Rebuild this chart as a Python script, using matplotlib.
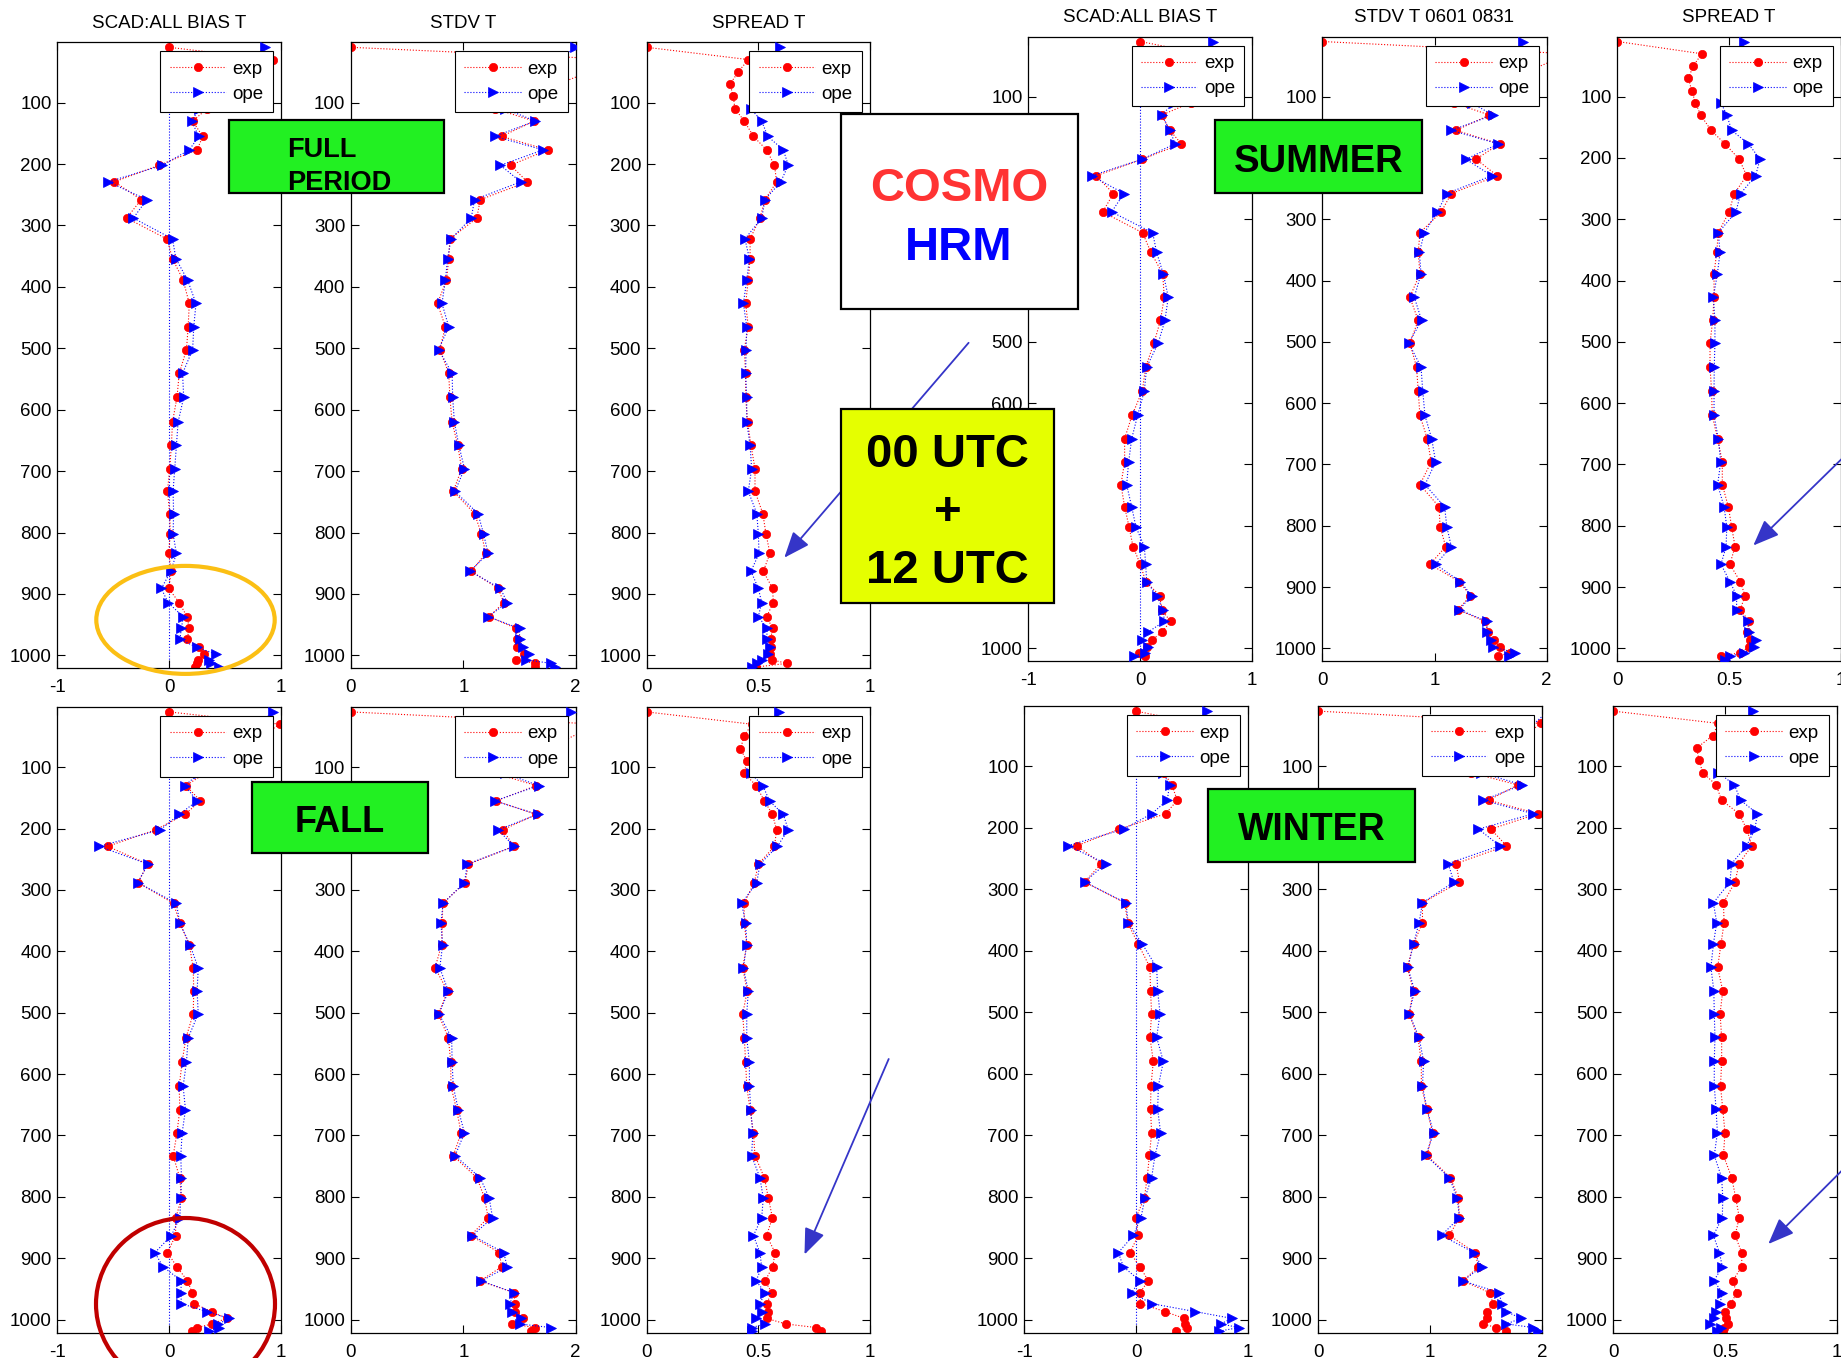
import numpy as np
import matplotlib
matplotlib.use('Agg')
import matplotlib.pyplot as plt
from matplotlib.patches import Rectangle, Ellipse, FancyArrowPatch

plt.rcParams['font.family'] = ['Liberation Sans', 'DejaVu Sans']
plt.rcParams['axes.unicode_minus'] = False

N = np.nan

# pressure levels (hPa)
levels = [10, 30, 50, 70, 90, 110, 130, 155, 177, 202, 229, 258, 288, 322, 354, 389,
          427, 465, 502, 541, 580, 620, 658, 696, 733, 769, 802, 834, 863, 891, 914,
          937, 956, 974, 987, 998, 1007, 1013, 1019]

# ---------------- FULL PERIOD ----------------
full_bias_exp = [0, 0.93, N, N, N, 0.34, 0.21, 0.30, 0.25, -0.09, -0.49, -0.25, -0.38, -0.02, 0.03,
                 0.125, 0.18, 0.17, 0.155, 0.09, 0.07, 0.03, 0.02, 0.005, -0.015, 0.005, 0.01, -0.005,
                 0.02, -0.005, 0.09, 0.16, 0.18, 0.16, 0.27, 0.31, 0.26, 0.25, 0.23]
full_bias_ope = [0.855, N, N, N, N, 0.27, 0.20, 0.265, 0.18, -0.06, -0.545, -0.20, -0.32, 0.03, 0.06,
                 0.165, 0.24, 0.22, 0.21, 0.12, 0.13, 0.08, 0.065, 0.05, 0.035, 0.04, 0.035, 0.065,
                 0.015, -0.07, -0.01, 0.125, 0.11, 0.095, 0.25, 0.42, 0.36, 0.37, 0.45]
full_stdv_exp = [0, 2.4, N, N, N, 1.28, 1.63, 1.34, 1.75, 1.42, 1.57, 1.15, 1.12, 0.88, 0.87,
                 0.85, 0.77, 0.84, 0.79, 0.87, 0.88, 0.90, 0.95, 0.985, 0.91, 1.10, 1.16, 1.20,
                 1.07, 1.31, 1.36, 1.23, 1.47, 1.48, 1.48, 1.54, 1.47, 1.64, 1.64]
full_stdv_ope = [1.99, N, N, N, N, 1.37, 1.64, 1.28, 1.71, 1.33, 1.51, 1.10, 1.07, 0.89, 0.86,
                 0.84, 0.81, 0.87, 0.78, 0.90, 0.905, 0.92, 0.96, 1.01, 0.925, 1.13, 1.18, 1.22,
                 1.06, 1.33, 1.39, 1.22, 1.50, 1.50, 1.53, 1.58, 1.56, 1.78, 1.82]
full_spread_exp = [0, 0.455, 0.41, 0.373, 0.388, 0.395, 0.437, 0.478, 0.537, 0.572, 0.582, 0.53, 0.507,
                   0.463, 0.463, 0.455, 0.443, 0.455, 0.437, 0.443, 0.443, 0.452, 0.467, 0.485, 0.485,
                   0.52, 0.534, 0.552, 0.522, 0.564, 0.567, 0.537, 0.564, 0.555, 0.557, 0.552, 0.56,
                   0.627, 0.49]
full_spread_ope = [0.595, N, N, N, N, 0.466, 0.515, 0.542, 0.612, 0.634, 0.60, 0.53, 0.515, 0.44,
                   0.46, 0.448, 0.433, 0.448, 0.445, 0.443, 0.448, 0.448, 0.463, 0.47, 0.455, 0.493,
                   0.50, 0.503, 0.467, 0.50, 0.515, 0.50, 0.54, 0.537, 0.55, 0.545, 0.515, 0.493, 0.47]

# ---------------- SUMMER ----------------
summer_bias_exp = [0, 0.55, N, N, N, 0.45, 0.19, 0.265, 0.366, 0.018, -0.396, -0.24, -0.336, 0.02,
                   0.095, 0.20, 0.214, 0.18, 0.122, 0.048, 0.018, -0.074, -0.14, -0.14, -0.173, -0.14,
                   -0.10, -0.065, 0.0, 0.048, 0.175, 0.19, 0.27, 0.19, 0.10, 0.057, -0.01, 0.04, N]
summer_bias_ope = [0.646, N, N, N, N, 0.30, 0.19, 0.265, 0.31, 0.018, -0.435, -0.146, -0.256, 0.11,
                   0.146, 0.205, 0.25, 0.22, 0.16, 0.057, 0.036, -0.024, -0.077, -0.104, -0.122, -0.077,
                   -0.039, 0.036, 0.048, 0.057, 0.146, 0.205, 0.214, 0.065, 0.018, 0.07, 0.04, -0.057, N]
summer_stdv_exp = [0, 2.2, N, N, N, 1.17, 1.49, 1.19, 1.58, 1.37, 1.56, 1.15, 1.06, 0.87, 0.855,
                   0.87, 0.78, 0.855, 0.78, 0.84, 0.855, 0.87, 0.936, 0.97, 0.87, 1.04, 1.05, 1.10,
                   0.96, 1.22, 1.32, 1.21, 1.45, 1.48, 1.53, 1.58, 1.67, 1.57, N]
summer_stdv_ope = [1.79, N, N, N, N, 1.33, 1.52, 1.15, 1.57, 1.28, 1.51, 1.11, 1.025, 0.91, 0.865,
                   0.88, 0.82, 0.885, 0.77, 0.88, 0.895, 0.915, 0.975, 1.01, 0.915, 1.09, 1.11, 1.15,
                   1.01, 1.23, 1.33, 1.22, 1.465, 1.47, 1.50, 1.52, 1.72, 1.66, N]
summer_spread_exp = [0, 0.378, 0.34, 0.318, 0.333, 0.35, 0.373, 0.42, 0.482, 0.546, 0.579, 0.524, 0.50,
                     0.452, 0.445, 0.433, 0.433, 0.427, 0.415, 0.415, 0.422, 0.425, 0.449, 0.47, 0.47,
                     0.497, 0.512, 0.527, 0.504, 0.55, 0.572, 0.55, 0.591, 0.579, 0.594, 0.591, 0.55,
                     0.463, N]
summer_spread_ope = [0.569, N, N, N, N, 0.464, 0.49, 0.512, 0.587, 0.639, 0.619, 0.552, 0.531, 0.452,
                     0.46, 0.448, 0.43, 0.437, 0.437, 0.434, 0.433, 0.433, 0.452, 0.463, 0.449, 0.478,
                     0.49, 0.487, 0.464, 0.504, 0.534, 0.534, 0.587, 0.591, 0.62, 0.612, 0.569, 0.504, 0.48]

# ---------------- FALL ----------------
fall_bias_exp = [0, 0.99, N, N, N, 0.32, 0.15, 0.28, 0.14, -0.12, -0.55, -0.19, -0.28, 0.04, 0.095,
                 0.18, 0.215, 0.22, 0.215, 0.15, 0.116, 0.09, 0.095, 0.07, 0.036, 0.095, 0.11, 0.06,
                 0.057, -0.015, 0.07, 0.164, 0.205, 0.224, 0.38, 0.513, 0.385, 0.245, 0.2]
fall_bias_ope = [0.93, N, N, N, N, 0.27, 0.14, 0.25, 0.09, -0.08, -0.625, -0.19, -0.28, 0.065, 0.095,
                 0.185, 0.26, 0.25, 0.26, 0.17, 0.155, 0.125, 0.146, 0.116, 0.104, 0.11, 0.104, 0.095,
                 0.02, -0.128, -0.054, 0.11, 0.104, 0.11, 0.334, 0.537, 0.44, 0.45, 0.36]
fall_stdv_exp = [0, 2.2, N, N, N, 1.28, 1.65, 1.29, 1.65, 1.35, 1.45, 1.045, 1.015, 0.816, 0.813,
                 0.807, 0.748, 0.86, 0.777, 0.867, 0.887, 0.89, 0.94, 0.98, 0.91, 1.12, 1.19, 1.22,
                 1.065, 1.32, 1.34, 1.15, 1.45, 1.46, 1.46, 1.53, 1.43, 1.64, 1.60]
fall_stdv_ope = [1.96, N, N, N, N, 1.37, 1.67, 1.28, 1.66, 1.31, 1.45, 1.035, 1.01, 0.82, 0.80,
                 0.816, 0.79, 0.867, 0.783, 0.896, 0.90, 0.91, 0.955, 1.01, 0.926, 1.15, 1.23, 1.26,
                 1.08, 1.36, 1.39, 1.16, 1.45, 1.415, 1.43, 1.51, 1.50, 1.78, N]
fall_spread_exp = [0, 0.47, 0.436, 0.42, 0.448, 0.437, 0.49, 0.527, 0.563, 0.582, 0.572, 0.50, 0.482,
                   0.436, 0.437, 0.448, 0.43, 0.45, 0.43, 0.437, 0.443, 0.448, 0.463, 0.478, 0.485,
                   0.527, 0.545, 0.563, 0.537, 0.575, 0.564, 0.53, 0.56, 0.537, 0.542, 0.537, 0.622,
                   0.76, 0.78]
fall_spread_ope = [0.593, N, N, N, N, 0.466, 0.52, 0.55, 0.612, 0.634, 0.585, 0.507, 0.493, 0.425,
                   0.443, 0.448, 0.433, 0.455, 0.448, 0.448, 0.46, 0.46, 0.466, 0.475, 0.47, 0.507,
                   0.522, 0.515, 0.478, 0.507, 0.515, 0.49, 0.53, 0.507, 0.515, 0.49, 0.53, 0.47, 0.47]

# ---------------- WINTER ----------------
winter_bias_exp = [0, 0.55, N, N, N, 0.25, 0.32, 0.37, 0.265, -0.15, -0.53, -0.31, -0.46, -0.10,
                   -0.075, 0.02, 0.125, 0.13, 0.14, 0.125, 0.155, 0.134, 0.13, 0.14, 0.12, 0.10,
                   0.075, 0.0, 0.02, -0.054, 0.036, 0.11, 0.036, 0.04, 0.26, 0.43, 0.44, 0.46, 0.355]
winter_bias_ope = [0.64, N, N, N, N, 0.24, 0.30, 0.28, 0.14, -0.11, -0.61, -0.27, -0.46, -0.09,
                   -0.07, 0.057, 0.185, 0.194, 0.215, 0.185, 0.245, 0.20, 0.194, 0.22, 0.17, 0.14,
                   0.08, 0.045, -0.024, -0.158, -0.113, 0.036, -0.04, 0.14, 0.53, 0.857, 0.76, 0.92, 0.74]
winter_stdv_exp = [0, 1.99, N, N, N, 1.36, 1.78, 1.52, 1.96, 1.54, 1.68, 1.23, 1.26, 0.93, 0.93,
                   0.85, 0.795, 0.85, 0.81, 0.89, 0.92, 0.92, 0.97, 1.02, 0.97, 1.18, 1.25, 1.26,
                   1.17, 1.40, 1.43, 1.29, 1.53, 1.56, 1.51, 1.51, 1.47, 1.59, 1.68]
winter_stdv_ope = [2.05, N, N, N, N, 1.45, 1.82, 1.47, 1.92, 1.43, 1.62, 1.16, 1.21, 0.93, 0.90,
                   0.85, 0.80, 0.86, 0.81, 0.90, 0.94, 0.93, 0.97, 1.03, 0.96, 1.17, 1.24, 1.26,
                   1.10, 1.39, 1.46, 1.29, 1.61, 1.64, 1.68, 1.81, 1.68, 1.92, 1.96]
winter_spread_exp = [0, 0.47, 0.445, 0.373, 0.384, 0.40, 0.46, 0.485, 0.563, 0.597, 0.62, 0.563, 0.545,
                     0.493, 0.496, 0.482, 0.467, 0.49, 0.478, 0.485, 0.485, 0.48, 0.49, 0.50, 0.493,
                     0.53, 0.548, 0.564, 0.545, 0.575, 0.575, 0.534, 0.552, 0.527, 0.50, 0.504, 0.515,
                     0.496, 0.49]
winter_spread_ope = [0.627, N, N, N, N, 0.47, 0.542, 0.57, 0.645, 0.634, 0.597, 0.53, 0.522, 0.448,
                     0.463, 0.448, 0.437, 0.45, 0.452, 0.455, 0.452, 0.452, 0.46, 0.466, 0.452, 0.485,
                     0.49, 0.488, 0.448, 0.475, 0.488, 0.45, 0.488, 0.478, 0.458, 0.452, 0.433, 0.48, 0.466]

titles_left = ['SCAD:ALL BIAS T', 'STDV T', 'SPREAD T']
titles_right = ['SCAD:ALL BIAS T', 'STDV T 0601 0831', 'SPREAD T']
series_labels = ['exp', 'ope']
ytick_vals = [100, 200, 300, 400, 500, 600, 700, 800, 900, 1000]

# ------------------------------------------------------------------
W, H = 1841, 1358
fig = plt.figure(figsize=(W / 100, H / 100), dpi=100)
fig.patch.set_facecolor('white')


def px_axes(x0, y0, x1, y1):
    return fig.add_axes([x0 / W, 1 - y1 / H, (x1 - x0) / W, (y1 - y0) / H])


KIND = {
    'bias': ((-1, 1), [-1, 0, 1], ['-1', '0', '1']),
    'stdv': ((0, 2), [0, 1, 2], ['0', '1', '2']),
    'spread': ((0, 1), [0, 0.5, 1], ['0', '0.5', '1']),
}


def panel(x0, y0, x1, y1, kind, exp, ope, title=None):
    ax = px_axes(x0, y0, x1, y1)
    lev = np.array(levels, float)
    e = np.array(exp, float)
    o = np.array(ope, float)
    if kind == 'bias':
        ax.axvline(0, color='b', ls=':', lw=0.8, zorder=1)
    me = ~np.isnan(e)
    mo = ~np.isnan(o)
    ax.plot(e[me], lev[me], ls=':', color='r', lw=0.8, marker='o', ms=6.0,
            mfc='r', mec='r', mew=0.5, label=series_labels[0], zorder=2)
    ax.plot(o[mo], lev[mo], ls=':', color='b', lw=0.8, marker='>', ms=7.4,
            mfc='b', mec='b', mew=0.5, label=series_labels[1], zorder=3)
    xl, xt, xtl = KIND[kind]
    ax.set_xlim(*xl)
    ax.set_ylim(1021, 2)
    ax.set_xticks(xt)
    ax.set_xticklabels(xtl)
    ax.set_yticks(ytick_vals)
    ax.set_yticklabels([str(v) for v in ytick_vals])
    ax.tick_params(direction='in', length=5.5, width=0.8, top=True, right=True,
                   labelsize=13.5, colors='black')
    ax.tick_params(axis='x', pad=8)
    ax.tick_params(axis='y', pad=4)
    for s in ax.spines.values():
        s.set_linewidth(0.9)
        s.set_color('black')
    wpx = x1 - x0
    hpx = y1 - y0
    leg = ax.legend(loc='upper right', bbox_to_anchor=(1 - 8 / wpx, 1 - 9 / hpx),
                    borderaxespad=0, frameon=True, fancybox=False, edgecolor='black',
                    framealpha=1, fontsize=13.5, handlelength=3.0, handletextpad=0.35,
                    borderpad=0.5, labelspacing=0.42, numpoints=1)
    leg.get_frame().set_linewidth(0.8)
    if title:
        cx = (x0 + x1) / 2
        fig.text(cx / W, 1 - (y0 - 14.8) / H, title, fontsize=13.5, ha='center', va='baseline')
    return ax


rowTL = (42.4, 668.3)
rowTR = (36.6, 661.2)
rowBL = (707.0, 1332.5)
rowBR = (706.2, 1332.5)
colsL = [(57.3, 281.0), (351.0, 575.7), (646.7, 870.0)]
colsTR = [(1028.3, 1252.3), (1322.3, 1546.7), (1617.3, 1840.7)]
colsBR = [(1024.3, 1247.7), (1318.3, 1542.3), (1613.3, 1836.7)]
kinds = ['bias', 'stdv', 'spread']

full = [(full_bias_exp, full_bias_ope), (full_stdv_exp, full_stdv_ope), (full_spread_exp, full_spread_ope)]
summer = [(summer_bias_exp, summer_bias_ope), (summer_stdv_exp, summer_stdv_ope),
          (summer_spread_exp, summer_spread_ope)]
fall = [(fall_bias_exp, fall_bias_ope), (fall_stdv_exp, fall_stdv_ope), (fall_spread_exp, fall_spread_ope)]
winter = [(winter_bias_exp, winter_bias_ope), (winter_stdv_exp, winter_stdv_ope),
          (winter_spread_exp, winter_spread_ope)]

for i in range(3):
    panel(colsL[i][0], rowTL[0], colsL[i][1], rowTL[1], kinds[i], *full[i], title=titles_left[i])
    panel(colsTR[i][0], rowTR[0], colsTR[i][1], rowTR[1], kinds[i], *summer[i], title=titles_right[i])
    panel(colsL[i][0], rowBL[0], colsL[i][1], rowBL[1], kinds[i], *fall[i])
    panel(colsBR[i][0], rowBR[0], colsBR[i][1], rowBR[1], kinds[i], *winter[i])


# ------------------------- annotations -------------------------
def fbox(x0, y0, x1, y1, fc, z):
    fig.add_artist(Rectangle((x0 / W, 1 - y1 / H), (x1 - x0) / W, (y1 - y0) / H,
                             transform=fig.transFigure, fc=fc, ec='black', lw=1.6, zorder=z))


def ftext(x, yc, s, size, color='black', ha='center', z=20):
    em = size * 100 / 72
    fig.text(x / W, 1 - (yc + 0.358 * em) / H, s, fontsize=size, color=color, ha=ha,
             va='baseline', fontweight='bold', zorder=z)


def farrow(x0, y0, x1, y1, z):
    fig.add_artist(FancyArrowPatch((x0 / W, 1 - y0 / H), (x1 / W, 1 - y1 / H),
                                   transform=fig.transFigure,
                                   arrowstyle='-|>,head_length=0.8,head_width=0.32',
                                   mutation_scale=20, color='#3535c8', lw=1.3,
                                   shrinkA=0, shrinkB=0, zorder=z))


def fellipse(cx, cy, w, h, color, z):
    fig.add_artist(Ellipse((cx / W, 1 - cy / H), w / W, h / H, transform=fig.transFigure,
                           fill=False, ec=color, lw=3.0, zorder=z))


GREEN = '#22f022'

# arrows (below boxes)
farrow(968.6, 342.8, 784.3, 557.7, 10)
farrow(1850, 450.8, 1753.3, 545.5, 10)
farrow(888.7, 1059.0, 804.5, 1254.5, 10)
farrow(1850, 1162.5, 1768.3, 1244.0, 10)

# ellipses
fellipse(185.5, 619.9, 178.4, 108.0, '#fbbf14', 11)
fellipse(185.5, 1304.0, 179.0, 172.0, '#c00000', 11)

# boxes
fbox(229.0, 120.5, 443.5, 193.0, GREEN, 12)
ftext(287, 147, 'FULL', 19.5, ha='left')
ftext(287, 180, 'PERIOD', 19.5, ha='left')

fbox(840.6, 114.0, 1077.5, 308.5, 'white', 12)
ftext(959, 184, 'COSMO', 34, color='#ff3333')
ftext(959, 243, 'HRM', 34, color='#0000ff')

fbox(840.6, 408.6, 1054.0, 602.5, '#e5ff00', 12)
ftext(947.5, 449.6, '00 UTC', 34)
ftext(947.5, 508, '+', 34)
ftext(947.5, 566, '12 UTC', 34)

fbox(1215.0, 120.5, 1422.0, 193.0, GREEN, 12)
ftext(1318.5, 158.5, 'SUMMER', 27.5)

fbox(251.5, 781.6, 428.4, 853.3, GREEN, 12)
ftext(340, 819.5, 'FALL', 26)

fbox(1208.3, 789.3, 1414.5, 861.7, GREEN, 12)
ftext(1311.5, 826.5, 'WINTER', 27)

fig.savefig('out.png', dpi=100, facecolor='white')
